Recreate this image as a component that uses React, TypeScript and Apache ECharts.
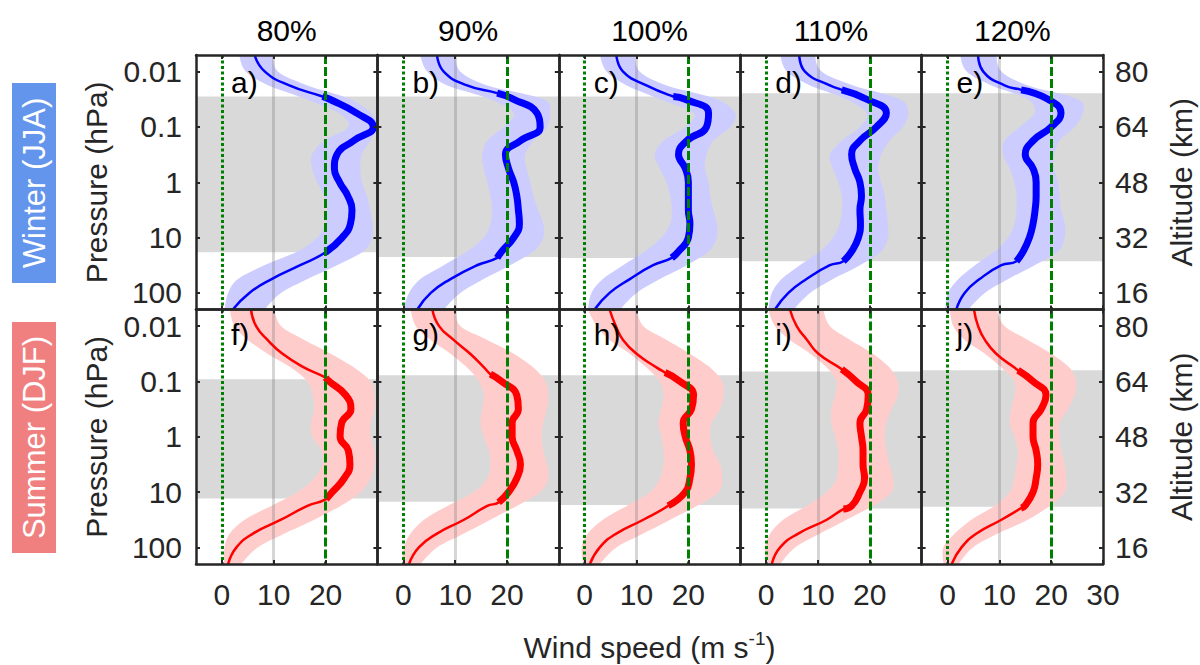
import React, { useEffect, useRef } from 'react';
import * as echarts from 'echarts';

// ---------- data ----------
const columnTitles = ['80%', '90%', '100%', '110%', '120%'];
const panelLetters = ['a)', 'b)', 'c)', 'd)', 'e)', 'f)', 'g)', 'h)', 'i)', 'j)'];
const rowNames = ['Winter (JJA)', 'Summer (DJF)'];

// log10 of pressure (hPa) at which the profiles were read
const levels = [-2.3, -2.0, -1.75, -1.5, -1.25, -1.0, -0.75, -0.5, -0.25, 0, 0.25, 0.5, 0.75, 1.0, 1.25, 1.5, 1.75, 2.0, 2.3];

const pressureTicks = [0.01, 0.1, 1, 10, 100];
const altitudeTicks = [80, 64, 48, 32, 16];
const windTicks = [0, 10, 20];
const windTicksLast = [0, 10, 20, 30];
const windMin = -5;
const windMax = 30;
const logPMin = -2.3;
const logPMax = 2.3;

// Winter (JJA) wind speed, m/s
const meanA = [6.3, 8.3, 13, 20.8, 26, 29.2, 25.4, 22.2, 21.7, 22.7, 24.3, 25.1, 24.8, 23.2, 20.1, 15.1, 9.6, 5.3, 2.1];
const lowA = [3.3, 4.6, 9, 16.3, 22.5, 24.4, 19.7, 17.4, 17.4, 18.4, 19.7, 20.3, 20, 18.4, 14.6, 8.2, 3.1, 1.2, 0.5];
const highA = [9.8, 10.8, 16.5, 24.8, 28.8, 30, 28.6, 27, 26.7, 27, 28, 28.6, 29, 29, 27.3, 22.2, 16.5, 11.4, 8.2];

const meanB = [6.5, 7.8, 12.3, 21.3, 25.8, 26.4, 22.6, 19.7, 20.3, 21.3, 21.9, 22.2, 22.4, 21.3, 19, 14.2, 9.1, 5.3, 2.7];
const lowB = [3.2, 4.6, 8.5, 16.8, 21.3, 19.4, 16.2, 15.2, 15.5, 16.2, 16.8, 17.1, 16.8, 15.5, 12.3, 7.8, 3.3, 1.1, 0];
const highB = [10, 11, 16.2, 27, 28.3, 27.7, 25.1, 23.5, 23.8, 24.5, 25.1, 26, 27, 27, 25.1, 20.6, 15.5, 11, 7.8];

const meanC = [6.1, 7.4, 11.9, 19.4, 23.9, 23.5, 19.7, 18.1, 19.4, 20, 20, 20, 20.3, 20, 18.1, 13.2, 8.7, 4.8, 1.9];
const lowC = [2.9, 4.2, 8.1, 14.5, 21, 19.4, 15.2, 13.5, 14.5, 15.8, 16.5, 16.8, 16.5, 14.8, 11.6, 7.4, 3.5, 1.3, 0.6];
const highC = [9.7, 10.6, 15.8, 25.5, 29, 28.1, 24.8, 23.5, 23.2, 23.9, 24.2, 24.8, 25.5, 25.5, 23.9, 19.7, 14.5, 10, 6.8];

const meanD = [6.4, 7.5, 12.3, 19.4, 23.2, 21.3, 18.1, 16.5, 17.1, 18.1, 18.4, 18.1, 18.2, 17.8, 16.5, 12.3, 7.8, 4.3, 1.7];
const lowD = [2.7, 4, 8.5, 15.5, 19.4, 18.1, 14.6, 12.3, 12.9, 13.9, 14.6, 14.6, 14.2, 12.9, 10.4, 6.5, 3, 1.1, 0.4];
const highD = [9.4, 10.7, 16.8, 25.8, 27.4, 26.4, 23.8, 22.2, 21.6, 22.2, 22.9, 23.2, 23.5, 23.5, 22.2, 18.1, 12.9, 8.5, 5.3];

const meanE = [5.9, 6.9, 11, 19.4, 21.9, 20, 16.5, 15, 16.5, 17.1, 17.1, 16.9, 16.5, 15.8, 14.6, 10.4, 6.2, 3.3, 1.7];
const lowE = [2.4, 3.7, 8.5, 15.5, 16.8, 13.9, 11, 10.7, 12, 12.9, 13.3, 13.3, 12.9, 11.7, 9.1, 5.3, 2.1, 0.1, -0.5];
const highE = [9.4, 10.4, 15.5, 25.1, 26.1, 24.5, 21.6, 20.6, 20.6, 21.3, 21.6, 21.9, 22.6, 22.6, 21.3, 16.8, 11.7, 7.2, 4];

// Summer (DJF) wind speed, m/s
const meanF = [5.6, 6.6, 8.8, 11.7, 15.9, 20.7, 23.9, 24.9, 23.1, 22.8, 24.4, 24.7, 23.6, 21.3, 16.5, 11.4, 6, 2.8, 1.2];
const lowF = [1.5, 2.4, 5, 8.8, 13.3, 16.5, 17.5, 17.8, 17.2, 17.5, 19.2, 19.4, 17.8, 14.6, 9.5, 4.4, 1.5, 0.5, 0.4];
const highF = [10.1, 11.4, 15.9, 21, 25.5, 28.7, 29.4, 29.4, 28.7, 28.7, 29.4, 29.4, 28.7, 26.8, 22.9, 17.8, 12.1, 6.9, 3.7];

const meanG = [5.6, 6.9, 9.7, 12.9, 15.6, 19, 21.9, 22.2, 21, 21, 21.9, 22.6, 21.9, 20.3, 16.2, 11.7, 6.5, 3, 1.1];
const lowG = [1.4, 2.4, 5.3, 9.1, 12.3, 14.6, 15.5, 15.2, 14.9, 15.5, 16.5, 16.8, 16.2, 13.6, 8.5, 4, 1.4, 0.1, -0.2];
const highG = [10, 11, 16.2, 21.3, 25.1, 27.4, 28, 27.7, 27, 26.7, 27, 27.7, 28, 26.4, 21.9, 16.8, 11.7, 6.5, 3.3];

const meanH = [4.8, 6.0, 7.4, 10, 13.9, 18.4, 21, 20.6, 19, 19.4, 20.3, 20.6, 20.3, 19.4, 16.5, 11.3, 6.1, 2.9, 1];
const lowH = [0.6, 2.3, 4.8, 8.7, 11.9, 14.5, 15.2, 14.8, 14.2, 14.8, 15.2, 15.2, 14.5, 12.6, 8.1, 3.5, 0.6, -0.6, -0.3];
const highH = [10, 11.3, 15.8, 20.3, 24.2, 26.5, 26.8, 26.1, 24.5, 24.2, 24.8, 26.1, 26.5, 25.8, 21.6, 16.5, 11.3, 6.1, 2.9];

const meanI = [4.6, 5.9, 7.9, 10.1, 13.9, 17.4, 19.7, 19.4, 18.1, 18.4, 18.7, 18.7, 19, 18.1, 16.5, 11.7, 6.2, 2.7, 1.1];
const lowI = [0.4, 1.7, 4.6, 8.5, 11.7, 13.6, 13.3, 12.6, 12.6, 13.3, 13.9, 13.9, 13.6, 11.7, 7.8, 3.3, 0.8, -0.2, 0.1];
const highI = [11, 12.3, 16.2, 20.6, 23.8, 25.4, 25.4, 24.2, 23.2, 22.9, 23.2, 23.8, 24.5, 24.2, 20.6, 15.5, 10.4, 5.6, 2.7];

const meanJ = [5.1, 5.9, 7.2, 9.4, 12.9, 16.5, 19, 18.1, 16.5, 16.5, 17.1, 17.4, 17.1, 16.5, 14.9, 10.4, 5.6, 2.7, 0.8];
const lowJ = [0.4, 1.1, 3.3, 7.2, 10.4, 12.9, 12.9, 12.3, 12, 12.9, 13.6, 13.3, 12.9, 12, 9.1, 4.6, 1.4, -0.8, -0.8];
const highJ = [9.4, 11, 15.5, 20, 23.5, 24.8, 24.5, 23.2, 21.6, 21.6, 21.9, 22.6, 22.9, 22.6, 19.7, 15.5, 9.7, 4.9, 2.1];

// thick-segment end points [log10 p, wind]
const thickStart = [[-1.55, 19.4], [-1.61, 18.1], [-1.55, 17.1], [-1.67, 14.6], [-1.67, 14.2], [-1.07, 20.0], [-1.13, 16.8], [-1.16, 15.5], [-1.22, 14.6], [-1.2, 13.6]];
const thickEnd = [[1.265, 20], [1.367, 18.1], [1.367, 16.8], [1.428, 14.9], [1.428, 13.3], [1.127, 20.1], [1.187, 18.4], [1.247, 16.1], [1.307, 14.9], [1.291, 14.2]];

// grey shaded pressure range (log10 hPa)
const bandTop = [-1.55, -1.55, -1.55, -1.61, -1.61, -1.04, -1.11, -1.11, -1.18, -1.2];
const bandBottom = [1.265, 1.35, 1.37, 1.43, 1.43, 1.115, 1.175, 1.235, 1.295, 1.267];

const refWindZero = 0;
const refWindGrid = 10;
const refWindTarget = 20;

// ---------- style ----------
const FONT = '"Liberation Sans", Arial, Helvetica, sans-serif';
const TEXT = '#262626';
const GREEN = '#008000';
const GRID_LEFT = 196;
const GRID_W = 181.4;
const ROW_TOP = [55, 309.5];
const ROW_H = 254.5;

const means = [meanA, meanB, meanC, meanD, meanE, meanF, meanG, meanH, meanI, meanJ];
const lows = [lowA, lowB, lowC, lowD, lowE, lowF, lowG, lowH, lowI, lowJ];
const highs = [highA, highB, highC, highD, highE, highF, highG, highH, highI, highJ];

function catmull(pts: number[][], steps = 8): number[][] {
  const out: number[][] = [];
  for (let i = 0; i < pts.length - 1; i++) {
    const p0 = pts[Math.max(0, i - 1)];
    const p1 = pts[i];
    const p2 = pts[i + 1];
    const p3 = pts[Math.min(pts.length - 1, i + 2)];
    for (let s = 0; s < steps; s++) {
      const t = s / steps;
      const t2 = t * t;
      const t3 = t2 * t;
      const f = (d: number) =>
        0.5 * (2 * p1[d] + (-p0[d] + p2[d]) * t + (2 * p0[d] - 5 * p1[d] + 4 * p2[d] - p3[d]) * t2 + (-p0[d] + 3 * p1[d] - 3 * p2[d] + p3[d]) * t3);
      out.push([f(0), f(1)]);
    }
  }
  out.push(pts[pts.length - 1]);
  return out;
}

function meanPoints(k: number): number[][] {
  const s = thickStart[k];
  const e = thickEnd[k];
  const pts = levels
    .map((L, i) => [L, means[k][i]])
    .filter(([L]) => Math.abs(L - s[0]) > 0.04 && Math.abs(L - e[0]) > 0.04);
  pts.push(s, e);
  pts.sort((a, b) => a[0] - b[0]);
  return pts;
}

function buildOption() {
  const grid: any[] = [];
  const xAxis: any[] = [];
  const yAxis: any[] = [];
  const series: any[] = [];
  const graphic: any[] = [];
  const pressureVals = pressureTicks.map((p) => Math.log10(p));
  const findIdx = (v: number) => pressureVals.findIndex((p) => Math.abs(p - v) < 1e-6);

  const axisLine = { show: true, onZero: false, lineStyle: { color: TEXT, width: 2.5 } };
  const tickStyle = { color: TEXT, width: 2 };

  for (let k = 0; k < 10; k++) {
    const row = k < 5 ? 0 : 1;
    const col = k % 5;
    const left = GRID_LEFT + col * GRID_W;
    const top = ROW_TOP[row];
    grid.push({ left, top, width: GRID_W, height: ROW_H, show: false, containLabel: false, outerBoundsMode: 'none' });
    const xt = col === 4 ? windTicksLast : windTicks;
    xAxis.push({
      type: 'value', gridIndex: k, position: 'bottom', min: windMin, max: windMax, z: 10,
      axisLine, splitLine: { show: false },
      axisTick: { show: true, inside: true, length: 4, customValues: xt, lineStyle: tickStyle },
      axisLabel: { show: row === 1, customValues: xt, fontSize: 30, fontFamily: FONT, color: TEXT, margin: 15 },
    });
    xAxis.push({
      type: 'value', gridIndex: k, position: 'top', min: windMin, max: windMax, z: 10,
      axisLine, splitLine: { show: false },
      axisTick: { show: true, inside: true, length: 4, customValues: xt, lineStyle: tickStyle },
      axisLabel: { show: false },
    });
    yAxis.push({
      type: 'value', gridIndex: k, position: 'left', min: logPMin, max: logPMax, inverse: true, z: 10,
      axisLine, splitLine: { show: false },
      axisTick: { show: true, inside: true, length: 4, customValues: pressureVals, lineStyle: tickStyle },
      axisLabel: {
        show: col === 0, customValues: pressureVals, fontSize: 30, fontFamily: FONT, color: TEXT, margin: 14,
        formatter: (v: number) => { const i = findIdx(v); return i >= 0 ? String(pressureTicks[i]) : ''; },
      },
    });
    yAxis.push({
      type: 'value', gridIndex: k, position: 'right', min: logPMin, max: logPMax, inverse: true, z: 10,
      axisLine, splitLine: { show: false },
      axisTick: { show: true, inside: true, length: 4, customValues: pressureVals, lineStyle: tickStyle },
      axisLabel: {
        show: col === 4, customValues: pressureVals, fontSize: 30, fontFamily: FONT, color: TEXT, margin: 12,
        formatter: (v: number) => { const i = findIdx(v); return i >= 0 ? String(altitudeTicks[i]) : ''; },
      },
    });

    const color = row === 0 ? '#0000ff' : '#ff0000';
    const bandFill = row === 0 ? '#ccccff' : '#ffcccc';
    const pts = meanPoints(k);
    const s = thickStart[k];
    const e = thickEnd[k];
    const full = pts.map((p) => [p[1], p[0]]);
    const thick = pts.filter((p) => p[0] >= s[0] - 1e-9 && p[0] <= e[0] + 1e-9).map((p) => [p[1], p[0]]);

    // uncertainty band
    series.push({
      type: 'custom', xAxisIndex: 2 * k, yAxisIndex: 2 * k, z: 2, clip: true, silent: true,
      data: [[0, 0]],
      renderItem: (params: any, api: any) => {
        const lo = levels.map((L, i) => api.coord([lows[k][i], L]));
        const hi = levels.map((L, i) => api.coord([highs[k][i], L]));
        const poly = catmull(lo).concat(catmull(hi).reverse());
        return { type: 'polygon', shape: { points: poly }, style: { fill: bandFill, stroke: null } };
      },
    });
    // thin mean profile + grey shaded range + 10 m/s grid line
    series.push({
      type: 'line', xAxisIndex: 2 * k, yAxisIndex: 2 * k, z: 3, silent: true,
      data: full, smooth: 0.5, showSymbol: false, symbol: 'none',
      lineStyle: { color, width: 2.5 },
      markArea: {
        silent: true, z: 1, label: { show: false }, itemStyle: { color: '#d9d9d9' },
        data: [[{ yAxis: bandTop[k] }, { yAxis: bandBottom[k] }]],
      },
      markLine: {
        silent: true, z: 2.5, symbol: ['none', 'none'], label: { show: false },
        lineStyle: { color: 'rgba(120,120,120,0.3)', width: 3, type: 'solid' },
        data: [{ xAxis: refWindGrid }],
      },
    });
    // thick mean profile + green reference lines
    series.push({
      type: 'line', xAxisIndex: 2 * k, yAxisIndex: 2 * k, z: 3, silent: true,
      data: thick, smooth: 0.5, showSymbol: false, symbol: 'none',
      lineStyle: { color, width: 7 },
      markLine: {
        silent: true, z: 5, symbol: ['none', 'none'], label: { show: false },
        data: [
          { xAxis: refWindZero, lineStyle: { color: GREEN, width: 3, type: [3, 2.5] } },
          { xAxis: refWindTarget, lineStyle: { color: GREEN, width: 3, type: [9, 3] } },
        ],
      },
    });

    graphic.push({
      type: 'text', x: left + 35, y: top + (row === 0 ? 27 : 25), z: 20, silent: true,
      style: { text: panelLetters[k], fontSize: 30, fontFamily: FONT, fill: '#000', align: 'left', verticalAlign: 'middle' },
    });
  }

  columnTitles.forEach((t, i) => {
    graphic.push({
      type: 'text', x: GRID_LEFT + GRID_W * (i + 0.5), y: 30, z: 20, silent: true,
      style: { text: t, fontSize: 30, fontFamily: FONT, fill: '#000', align: 'center', verticalAlign: 'middle' },
    });
  });

  const rowBox = [
    { y: 83, h: 200, color: '#6495ed' },
    { y: 322, h: 231, color: '#f08080' },
  ];
  [0, 1].forEach((r) => {
    const cy = ROW_TOP[r] + ROW_H / 2;
    graphic.push({
      type: 'text', x: 96, y: cy, rotation: Math.PI / 2, z: 20, silent: true,
      style: { text: 'Pressure (hPa)', fontSize: 30, fontFamily: FONT, fill: TEXT, align: 'center', verticalAlign: 'middle' },
    });
    graphic.push({
      type: 'text', x: 1181, y: cy, rotation: Math.PI / 2, z: 20, silent: true,
      style: { text: 'Altitude (km)', fontSize: 30, fontFamily: FONT, fill: TEXT, align: 'center', verticalAlign: 'middle' },
    });
    graphic.push({
      type: 'rect', x: 12, y: rowBox[r].y, z: 19, silent: true,
      shape: { width: 44, height: rowBox[r].h }, style: { fill: rowBox[r].color },
    });
    graphic.push({
      type: 'text', x: 34, y: rowBox[r].y + rowBox[r].h / 2, rotation: Math.PI / 2, z: 20, silent: true,
      style: { text: rowNames[r], fontSize: 31, fontFamily: FONT, fill: '#ffffff', align: 'center', verticalAlign: 'middle' },
    });
  });

  graphic.push({
    type: 'text', x: GRID_LEFT + GRID_W * 2.5, y: 647, z: 20, silent: true,
    style: {
      text: 'Wind speed (m s{sup|-1})',
      fontSize: 30, fontFamily: FONT, fill: TEXT, align: 'center', verticalAlign: 'middle', lineHeight: 36,
      rich: { sup: { fontSize: 19, fontFamily: FONT, fill: TEXT, verticalAlign: 'top', lineHeight: 20 } },
    },
  });

  return {
    animation: false,
    backgroundColor: '#ffffff',
    grid, xAxis, yAxis, series, graphic,
  };
}

export default function App() {
  const ref = useRef<HTMLDivElement>(null);
  useEffect(() => {
    if (!ref.current) return;
    const chart = echarts.init(ref.current, null, { renderer: 'svg', width: 1200, height: 665 });
    chart.setOption(buildOption() as any);
    return () => chart.dispose();
  }, []);
  return (
    <div
      ref={ref}
      style={{ position: 'absolute', left: 0, top: 0, width: 1200, height: 665, background: '#ffffff' }}
    />
  );
}
